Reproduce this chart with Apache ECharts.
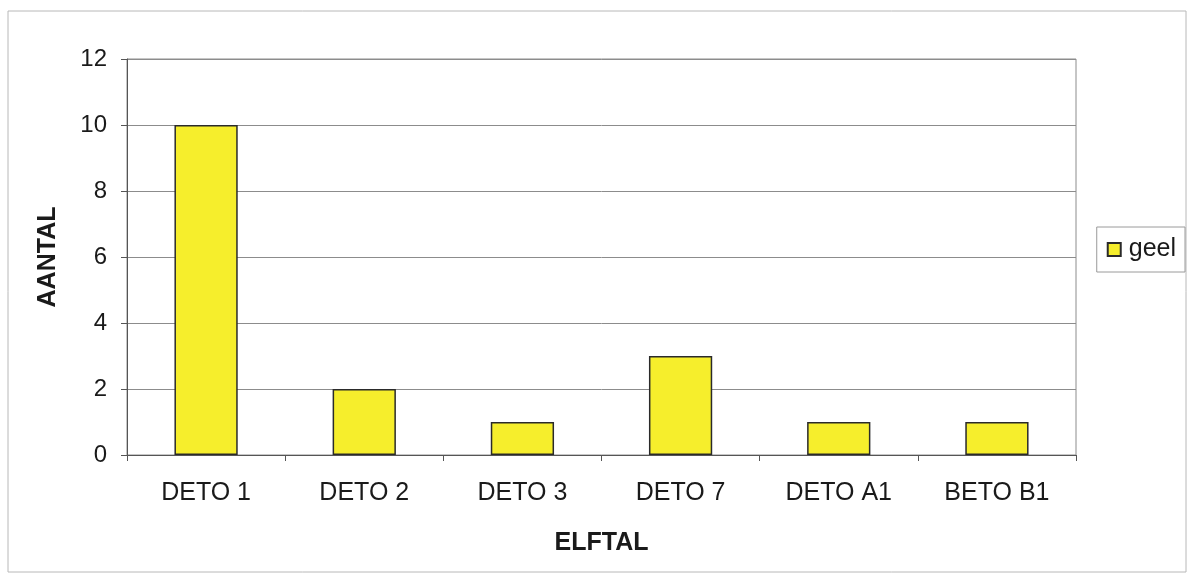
<!DOCTYPE html>
<html>
<head>
<meta charset="utf-8">
<script src="https://cdn.jsdelivr.net/npm/echarts@6/dist/echarts.min.js"></script>
<style>
html,body{margin:0;padding:0;background:#fff;}
#c{width:1190px;height:580px;}
</style>
</head>
<body>
<div id="c"></div>
<script>
const categories = ['DETO 1', 'DETO 2', 'DETO 3', 'DETO 7', 'DETO A1', 'BETO B1'];
const geel = [10, 2, 1, 3, 1, 1];
const yTicks = [0, 2, 4, 6, 8, 10, 12];

const chart = echarts.init(document.getElementById('c'));
const font = 'Liberation Sans, Arial, sans-serif';
chart.setOption({
  backgroundColor: '#fff',
  animation: false,
  graphic: [{
    type: 'rect', shape: {x: 8, y: 11, width: 1178, height: 561},
    style: {fill: 'none', stroke: '#b8b8b8', lineWidth: 1}, z: -1
  }],
  grid: {left: 127, right: 114, top: 59, bottom: 125, show: true, borderColor: '#8c8c8c', borderWidth: 1},
  legend: {
    data: ['geel'], right: 5, top: 227, orient: 'vertical',
    itemWidth: 13, itemHeight: 13, itemGap: 6,
    padding: [10, 9, 10, 10],
    borderColor: '#9a9a9a', borderWidth: 1,
    textStyle: {fontFamily: font, fontSize: 25, color: '#1a1a1a', padding: [0, 0, 0, 3]},
    icon: 'rect'
  },
  xAxis: {
    type: 'category', data: categories,
    name: 'ELFTAL', nameLocation: 'middle', nameGap: 76,
    nameTextStyle: {fontFamily: font, fontSize: 25, fontWeight: 'bold', color: '#1a1a1a'},
    axisLine: {lineStyle: {color: '#555'}},
    axisTick: {show: true, length: 6, lineStyle: {color: '#555'}},
    axisLabel: {fontFamily: font, fontSize: 25, color: '#1a1a1a', margin: 26}
  },
  yAxis: {
    type: 'value', min: 0, max: 12, interval: 2,
    name: 'AANTAL', nameLocation: 'middle', nameGap: 66, nameRotate: 90,
    nameTextStyle: {fontFamily: font, fontSize: 25, fontWeight: 'bold', color: '#1a1a1a'},
    axisLine: {show: true, lineStyle: {color: '#555'}},
    axisTick: {show: true, length: 6, lineStyle: {color: '#555'}},
    axisLabel: {fontFamily: font, fontSize: 24, color: '#1a1a1a', margin: 20,
      formatter: v => yTicks.includes(v) ? String(v) : ''},
    splitLine: {show: true, lineStyle: {color: '#8c8c8c', width: 1}}
  },
  series: [{
    name: 'geel', type: 'bar', data: geel, barWidth: '40%',
    itemStyle: {color: '#f6ee2c', borderColor: '#2a2a2a', borderWidth: 1.5}
  }]
});
</script>
</body>
</html>
